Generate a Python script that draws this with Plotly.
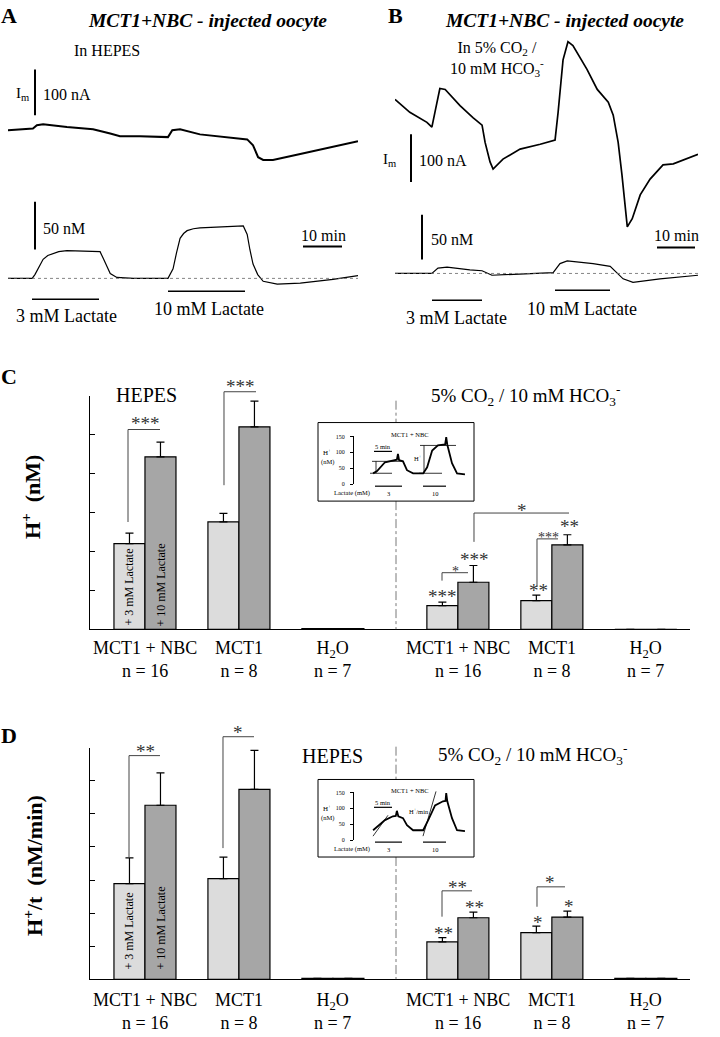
import plotly.graph_objects as go

W, H = 720, 1037
SERIF = "Liberation Serif, Times New Roman, serif"

# ---------------- data ----------------
# Panel A (HEPES) traces: time in min, membrane current in nA (relative), H+ in nM (relative)
A_time = [0, 6.4, 7.4, 9.0, 15.1, 21.8, 26.2, 28.7, 33.8, 41.0, 42.1, 44.1, 49.2, 53.6,
          61.3, 62.8, 64.1, 65.4, 67.9, 74.9, 83.3, 89.7]
A_current = [0, 4, 11, 13, 7, 2, -7, -13, -13, -15, 0, 2, -9, -13,
             -20, -33, -59, -65, -65, -52, -37, -24]
A_h_time = [0, 6.2, 6.9, 8.0, 9.0, 10.2, 11.5, 13.0, 15.1, 23.6, 24.4, 25.3, 26.2, 27.9, 32.1,
            41.0, 42.3, 43.2, 44.1, 45.0, 45.9, 47.5, 49.2, 60.3, 61.3, 62.0, 62.8, 64.0,
            65.4, 69.0, 74.9, 83.3, 89.7]
A_h = [0, 0, 4, 12, 20, 24, 26, 28, 29, 28, 21, 12, 5, 1, 0,
       0, 10, 27, 42, 47, 50, 52, 53, 55, 46, 30, 15, 4,
       -3, -6, -5, -1, 3]

# Panel B (5% CO2 / HCO3-) traces
B_time = [0, 3.9, 8.4, 9.7, 10.5, 11.8, 13.2, 17.1, 20.5, 22.9, 23.7, 25.0, 25.8, 28.4,
          32.9, 38.2, 42.1, 42.9, 44.2, 45.5, 46.8, 50.5, 53.2, 56.1, 57.4, 58.7, 59.7,
          61.1, 62.4, 64.5, 67.1, 70.5, 73.2, 79.7]
B_current = [0, -27, -48, -58, -27, 23, 21, -13, -38, -54, -90, -131, -146, -125,
             -104, -94, -85, -27, 83, 121, 113, 63, 21, -6, -33, -90, -158,
             -267, -250, -200, -167, -137, -135, -115]
B_h_time = [0, 9.7, 11.3, 13.7, 19.7, 22.9, 25.5, 34.7, 41.6, 43.4, 45.3, 52.1, 56.6,
            60.0, 62.6, 69.7, 79.7]
B_h = [0, 0, 6, 7, 4, 3, -2, 0, 1, 11, 14, 11, 8, -6, -10, -6, -2]

# Inset traces (H+ in nM vs time in min)
inset_c_t = [5.3, 6.4, 8.6, 10.8, 11.9, 12.2, 12.5, 13.6, 14.7, 16.4, 19.2, 20.3, 21.7,
             23.3, 25.3, 25.6, 25.9, 27.2, 28.6, 30.8]
inset_c_h = [34, 41, 69, 75, 77, 95, 76, 72, 44, 34, 34, 53, 106, 122, 125, 148, 124, 66, 34, 31]
inset_d_t = [5.3, 8.6, 10.8, 11.6, 11.9, 12.3, 13.6, 14.7, 16.4, 19.2, 20.6, 22.5, 24.7,
             25.4, 25.6, 25.9, 27.2, 28.6, 30.8]
inset_d_h = [31, 63, 75, 76, 92, 75, 69, 47, 31, 31, 63, 109, 122, 123, 148, 122, 69, 31, 28]

# Bar charts
groups = ["MCT1 + NBC", "MCT1", "H<sub>2</sub>O", "MCT1 + NBC", "MCT1", "H<sub>2</sub>O"]
n_labels = ["n = 16", "n = 8", "n = 7", "n = 16", "n = 8", "n = 7"]
C_3mM = [22.0, 27.6, 0.2, 6.1, 7.4, 0.0]
C_3mM_err = [2.7, 2.2, None, 0.9, 1.4, None]
C_10mM = [44.3, 52.0, 0.2, 12.1, 21.7, 0.0]
C_10mM_err = [3.8, 6.6, None, 4.3, 2.6, None]
D_3mM = [28.9, 30.4, 0.3, 11.3, 14.1, 0.3]
D_3mM_err = [7.8, 6.5, None, 1.3, 2.0, None]
D_10mM = [52.6, 57.4, 0.3, 18.6, 18.8, 0.3]
D_10mM_err = [9.8, 11.8, None, 1.7, 1.8, None]

# layout positions of groups on the bar axis
group_pos = [0, 1, 2, 3.33, 4.33, 5.33]


# ---------------- helpers ----------------
def X(px):
    return px / W


def Y(py):
    return 1 - py / H


annotations = []
shapes = []


def text(px, py, s, size=16, xanchor="center", yanchor="middle", angle=0,
         family=SERIF, color="black"):
    annotations.append(dict(x=X(px), y=Y(py), xref="paper", yref="paper", text=s,
                            showarrow=False, xanchor=xanchor, yanchor=yanchor,
                            textangle=angle, font=dict(family=family, size=size, color=color),
                            borderpad=0))


def seg(x0, y0, x1, y1, width=1.0, color="black", dash=None):
    line = dict(color=color, width=width)
    if dash:
        line["dash"] = dash
    shapes.append(dict(type="line", xref="paper", yref="paper", x0=X(x0), y0=Y(y0),
                       x1=X(x1), y1=Y(y1), line=line))


def poly(pts, width=1.0, color="#444"):
    p = "M " + " L ".join(f"{X(a):.5f},{Y(b):.5f}" for a, b in pts)
    shapes.append(dict(type="path", xref="paper", yref="paper", path=p,
                       line=dict(color=color, width=width)))


fig = go.Figure()

# ---------------- panel A / B traces ----------------
fig.add_trace(go.Scatter(x=A_time, y=A_current, xaxis="x", yaxis="y", mode="lines",
                         line=dict(color="black", width=2)))
fig.add_trace(go.Scatter(x=A_h_time, y=A_h, xaxis="x", yaxis="y2", mode="lines",
                         line=dict(color="black", width=1.2)))
fig.add_trace(go.Scatter(x=B_time, y=B_current, xaxis="x2", yaxis="y3", mode="lines",
                         line=dict(color="black", width=1.7)))
fig.add_trace(go.Scatter(x=B_h_time, y=B_h, xaxis="x2", yaxis="y4", mode="lines",
                         line=dict(color="black", width=1.2)))

# dotted baselines
shapes.append(dict(type="line", xref="x domain", yref="y2", x0=0, x1=1, y0=0, y1=0,
                   line=dict(color="#666", width=0.8, dash="dot")))
shapes.append(dict(type="line", xref="x2 domain", yref="y4", x0=0, x1=1, y0=0, y1=0,
                   line=dict(color="#666", width=0.8, dash="dot")))

# ---------------- insets ----------------
fig.add_trace(go.Scatter(x=inset_c_t, y=inset_c_h, xaxis="x5", yaxis="y7", mode="lines",
                         line=dict(color="black", width=1.8)))
fig.add_trace(go.Scatter(x=inset_d_t, y=inset_d_h, xaxis="x6", yaxis="y8", mode="lines",
                         line=dict(color="black", width=1.8)))

# ---------------- bar charts ----------------
light = "#dcdcdc"
dark = "#a6a6a6"
for xa, ya, v3, e3, v10, e10 in [("x3", "y5", C_3mM, C_3mM_err, C_10mM, C_10mM_err),
                                  ("x4", "y6", D_3mM, D_3mM_err, D_10mM, D_10mM_err)]:
    fig.add_trace(go.Bar(x=group_pos, y=v3, xaxis=xa, yaxis=ya,
                         marker=dict(color=light, line=dict(color="black", width=1.2)),
                         error_y=dict(type="data", array=e3, arrayminus=[0] * 6,
                                      symmetric=False, color="black", thickness=1.2, width=4)))
    fig.add_trace(go.Bar(x=group_pos, y=v10, xaxis=xa, yaxis=ya,
                         marker=dict(color=dark, line=dict(color="black", width=1.2)),
                         error_y=dict(type="data", array=e10, arrayminus=[0] * 6,
                                      symmetric=False, color="black", thickness=1.2, width=4)))

# ---------------- texts: panels A, B ----------------
text(9, 13, "<b>A</b>", 22)
text(395, 13, "<b>B</b>", 22)
text(208, 18, "<b><i>MCT1+NBC - injected oocyte</i></b>", 19.5)
text(564, 18, "<b><i>MCT1+NBC - injected oocyte</i></b>", 19.5)
text(73, 48, "In HEPES", 16, xanchor="left")
text(449, 56, "In 5% CO<sub>2</sub> /<br>10 mM HCO<sub>3</sub><sup>-</sup>", 16, xanchor="left")

# scale bars A
text(22, 92, "I<sub>m</sub>", 15)
seg(35, 67, 35, 113, 2)
text(42, 92, "100 nA", 16, xanchor="left")
seg(35, 200, 35, 248, 2)
text(42, 227, "50 nM", 16, xanchor="left")
seg(303, 245, 342, 245, 2)
text(323, 234, "10 min", 16)
seg(32, 298, 99, 298, 1.5)
text(66, 315, "3 mM Lactate", 18)
seg(168, 290, 245, 290, 1.5)
text(209, 308, "10 mM Lactate", 18)

# scale bars B
text(389, 158, "I<sub>m</sub>", 15)
seg(411, 132, 411, 180, 2)
text(418, 158, "100 nA", 16, xanchor="left")
seg(422, 213, 422, 258, 2)
text(430, 238, "50 nM", 16, xanchor="left")
seg(657, 246, 695, 246, 2)
text(676, 234, "10 min", 16)
seg(432, 299, 482, 299, 1.5)
text(456, 317, "3 mM Lactate", 18)
seg(555, 289, 610, 289, 1.5)
text(582, 308, "10 mM Lactate", 18)

# ---------------- texts: panels C, D ----------------
text(9, 376, "<b>C</b>", 22)
text(9, 737, "<b>D</b>", 22)
text(31, 497, "<b>H<sup>+</sup>  (nM)</b>", 22, angle=-90)
text(33, 868, "<b>H<sup>+</sup>/t  (nM/min)</b>", 22, angle=-90)
text(146, 394, "HEPES", 20)
text(525, 395, "5% CO<sub>2</sub> / 10 mM HCO<sub>3</sub><sup>-</sup>", 19)
text(332, 757, "HEPES", 20)
text(532, 756, "5% CO<sub>2</sub> / 10 mM HCO<sub>3</sub><sup>-</sup>", 19)

# group labels
for yb in (660.5, 1014.5):
    for g, lab, n in zip(group_pos, groups, n_labels):
        annotations.append(dict(x=g, y=Y(yb), xref="x3", yref="paper",
                                text=f"{lab}<br>{n}", showarrow=False,
                                xanchor="center", yanchor="middle",
                                font=dict(family=SERIF, size=18, color="black")))

# rotated labels in first bars
for yc3, yc10 in ((588, 586), (934, 931)):
    text(129, yc3, "+ 3 mM Lactate", 12, angle=-90)
    text(161, yc10, "+ 10 mM Lactate", 12, angle=-90)

# dividers (skipping the insets)
for a, b in ((400, 422), (501, 630), (748, 781), (859, 982)):
    seg(396, a, 396, b, 0.8, "#555", "dashdot")

# significance brackets and stars (C)
poly([(128, 522), (128, 429), (160, 429)])
poly([(224, 485), (224, 391), (256, 391)])
poly([(442, 581), (442, 573), (468, 573)])
poly([(474, 542), (474, 513), (569, 513)])
poly([(537, 587), (537, 539), (558, 539)])
for px, py, s, sz in [(145, 420, "***", 19), (240, 383, "***", 19), (455, 569, "*", 14),
                      (442, 594, "***", 19), (474, 557, "***", 19), (522, 507, "*", 19),
                      (548, 535, "***", 14), (538, 588, "**", 19), (569, 524, "**", 19)]:
    text(px, py + 3, s, sz, color="#333")

# significance brackets and stars (D)
poly([(129, 860), (129, 757), (160, 757)])
poly([(223, 850), (223, 738), (254, 738)])
poly([(442, 919), (442, 893), (472, 893)])
poly([(537, 909), (537, 889), (565, 889)])
for px, py, s, sz in [(145, 750, "**", 19), (238, 731, "*", 19), (457, 887, "**", 19),
                      (443, 933, "**", 19), (474, 907, "**", 19), (550, 882, "*", 19),
                      (538, 922, "*", 19), (569, 906, "*", 19)]:
    text(px, py + 3, s, sz, color="#333")

# ---------------- inset decorations ----------------
for top, bot, zero_y in ((422, 501, 484), (781, 859, 842)):
    shapes.append(dict(type="rect", xref="paper", yref="paper", x0=X(318), x1=X(474),
                       y0=Y(bot), y1=Y(top), line=dict(color="black", width=1)))
    text(327, zero_y - 32, "H<sup>+</sup>", 7)
    text(327, zero_y - 22, "(nM)", 6.5)
    text(333, zero_y + 9, "Lactate (mM)", 6.5, xanchor="left")
    text(410, zero_y - 50, "MCT1 + NBC", 6.5)
    text(383, zero_y - 38, "5 min", 6.5)
    seg(374, zero_y - 33, 392, zero_y - 33, 1.2)
    seg(375, zero_y + 2, 402, zero_y + 2, 1.2)
    seg(423, zero_y + 2, 446, zero_y + 2, 1.2)
    text(388, zero_y + 9, "3", 6.5)
    text(435, zero_y + 9, "10", 6.5)

# C inset specifics
seg(370, 473, 392, 473, 0.8)
seg(372, 461, 403, 461, 0.8)
seg(376, 461, 376, 473, 0.8)
seg(419, 473, 442, 473, 0.8)
seg(420, 445, 456, 445, 0.8)
seg(424, 445, 424, 473, 0.8)
text(418, 458, "H<sup>+</sup>", 6.5)
# D inset specifics
seg(373, 838, 388, 817, 0.8)
seg(423, 838, 436, 793, 0.8)
text(419, 813, "H<sup>+</sup>/min", 6.5)

# ---------------- layout ----------------
hidden = dict(visible=False, fixedrange=True, showgrid=False, zeroline=False)

bar_x_range = [-0.585, 5.80]
layout = dict(
    width=W, height=H, margin=dict(l=0, r=0, t=0, b=0),
    paper_bgcolor="white", plot_bgcolor="rgba(0,0,0,0)", showlegend=False,
    barmode="group", bargap=0.34, bargroupgap=0,
    font=dict(family=SERIF, color="black"),
    # A
    xaxis=dict(hidden, domain=[X(8), X(358)], range=[0, 89.7], anchor="y"),
    yaxis=dict(hidden, domain=[Y(200), Y(60)], range=[-156.5, 147.8], anchor="x"),
    yaxis2=dict(hidden, domain=[Y(330), Y(190)], range=[-55.2, 90.6], anchor="x"),
    # B
    xaxis2=dict(hidden, domain=[X(395), X(698)], range=[0, 79.7], anchor="y3"),
    yaxis3=dict(hidden, domain=[Y(240), Y(20)], range=[-297.9, 160.4], anchor="x2"),
    yaxis4=dict(hidden, domain=[Y(320), Y(200)], range=[-53.3, 80], anchor="x2"),
    # C bars
    xaxis3=dict(domain=[X(90), X(690)], range=bar_x_range, anchor="y5", showline=True,
                linecolor="black", linewidth=1.2, showticklabels=False, ticks="",
                showgrid=False, zeroline=False, fixedrange=True),
    yaxis5=dict(domain=[Y(630), Y(395)], range=[0, 60], anchor="x3", showline=True,
                linecolor="black", linewidth=1.2, tickvals=[0, 10, 20, 30, 40, 50, 60],
                ticks="inside", ticklen=5, tickcolor="black", showticklabels=False,
                showgrid=False, zeroline=False, fixedrange=True),
    # D bars
    xaxis4=dict(domain=[X(90), X(690)], range=bar_x_range, anchor="y6", showline=True,
                linecolor="black", linewidth=1.2, showticklabels=False, ticks="",
                showgrid=False, zeroline=False, fixedrange=True),
    yaxis6=dict(domain=[Y(982), Y(749)], range=[0, 70], anchor="x4", showline=True,
                linecolor="black", linewidth=1.2, tickvals=[0, 10, 20, 30, 40, 50, 60, 70],
                ticks="inside", ticklen=5, tickcolor="black", showticklabels=False,
                showgrid=False, zeroline=False, fixedrange=True),
    # insets
    xaxis5=dict(hidden, domain=[X(354), X(470)], range=[0, 32.2], anchor="y7"),
    yaxis7=dict(domain=[Y(484), Y(436)], range=[0, 150], anchor="x5", showline=True,
                linecolor="black", linewidth=1, tickvals=[0, 50, 100, 150], ticks="outside",
                ticklen=3, tickcolor="black", tickfont=dict(size=6, family=SERIF),
                ticklabelstandoff=4, showgrid=False, zeroline=False, fixedrange=True),
    xaxis6=dict(hidden, domain=[X(354), X(470)], range=[0, 32.2], anchor="y8"),
    yaxis8=dict(domain=[Y(842), Y(794)], range=[0, 150], anchor="x6", showline=True,
                linecolor="black", linewidth=1, tickvals=[0, 50, 100, 150], ticks="outside",
                ticklen=3, tickcolor="black", tickfont=dict(size=6, family=SERIF),
                ticklabelstandoff=4, showgrid=False, zeroline=False, fixedrange=True),
    annotations=annotations,
    shapes=shapes,
)
fig.update_layout(**layout)
fig.write_html("out.html", config={"displayModeBar": False},
               post_script="document.body.style.margin='0';document.body.style.overflow='hidden';")
